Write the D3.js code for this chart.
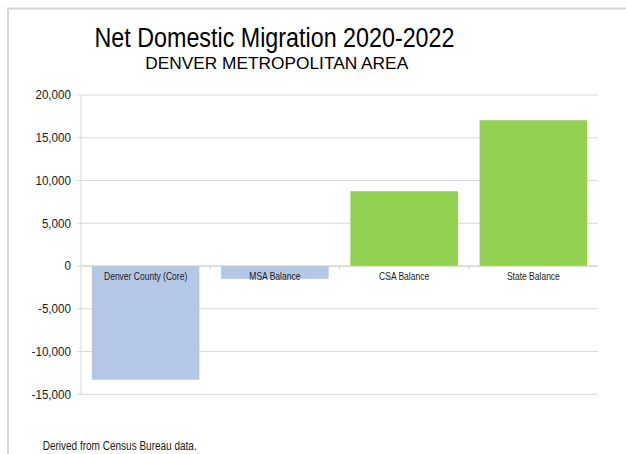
<!DOCTYPE html>
<html><head><meta charset="utf-8">
<script src="https://cdn.jsdelivr.net/npm/d3@7"></script>
<style>body{margin:0;background:#fff;}svg{display:block;font-family:"Liberation Sans",Arial,sans-serif;}</style>
</head><body>
<svg id="c" width="626" height="454"></svg>
<script>
const categories = ["Denver County (Core)", "MSA Balance", "CSA Balance", "State Balance"];
const values = [-13300, -1500, 8750, 17050];
const barColors = ["#b4c7e7", "#b4c7e7", "#92d050", "#92d050"];
const yTicks = [-15000, -10000, -5000, 0, 5000, 10000, 15000, 20000];
const title = "Net Domestic Migration 2020-2022";
const subtitle = "DENVER METROPOLITAN AREA";
const footnote = "Derived from Census Bureau data.";

const svg = d3.select("#c");
const squeeze = function(k){ return function(){ const w = this.getComputedTextLength(); d3.select(this).attr("textLength", w*k).attr("lengthAdjust","spacingAndGlyphs"); }; };

// frame
svg.append("path").attr("d","M8,454 V8.5 H626").attr("fill","none").attr("stroke","#d3d3da").attr("stroke-width",2);

const x = d3.scaleBand().domain(categories).range([81, 598]).paddingInner(0.168).paddingOuter(0.084);
const y = d3.scaleLinear().domain([-15000, 20000]).range([394.3, 95]);

// gridlines
svg.append("g").selectAll("line").data(yTicks).join("line")
  .attr("x1", 77).attr("x2", 598)
  .attr("y1", d => y(d)).attr("y2", d => y(d))
  .attr("stroke", "#d9d9d9").attr("stroke-width", 1);

// y axis line
svg.append("line").attr("x1",81).attr("x2",81).attr("y1",y(20000)).attr("y2",y(-15000)).attr("stroke","#d9d9d9");

// y labels
const fmt = d => d3.format(",")(d).replace("\u2212","-");
svg.append("g").selectAll("text").data(yTicks).join("text")
  .attr("x", 71).attr("y", d => y(d)).attr("dy","0.35em")
  .attr("text-anchor","end").attr("font-size", 12.5).attr("fill","#1a1a1a")
  .text(fmt).each(squeeze(0.93));

// bars
svg.append("g").selectAll("rect").data(values).join("rect")
  .attr("x", (d,i) => x(categories[i]))
  .attr("width", x.bandwidth())
  .attr("y", d => y(Math.max(0,d)))
  .attr("height", d => Math.abs(y(d) - y(0)))
  .attr("fill", (d,i) => barColors[i]);

// zero line + category ticks
svg.append("line").attr("x1",81).attr("x2",598).attr("y1",y(0)).attr("y2",y(0)).attr("stroke","#d0d0d0");
const step = x.step();
svg.append("g").selectAll("line").data(d3.range(1, categories.length)).join("line")
  .attr("x1", i => 81 + i*step).attr("x2", i => 81 + i*step)
  .attr("y1", y(0)).attr("y2", y(0)+3.5).attr("stroke","#d0d0d0");

// category labels
svg.append("g").selectAll("text").data(categories).join("text")
  .attr("x", d => x(d) + x.bandwidth()/2).attr("y", y(0) + 13.8)
  .attr("text-anchor","middle").attr("font-size", 10.5).attr("fill","#1a1a1a")
  .text(d => d).each(squeeze(0.81));

// titles
svg.append("text").attr("x", 274.5).attr("y", 47).attr("text-anchor","middle")
  .attr("font-size", 27).attr("fill","#000").text(title)
  .attr("textLength", 360).attr("lengthAdjust","spacingAndGlyphs");
svg.append("text").attr("x", 276.7).attr("y", 68.5).attr("text-anchor","middle")
  .attr("font-size", 17).attr("fill","#000").text(subtitle)
  .attr("textLength", 263).attr("lengthAdjust","spacingAndGlyphs");
svg.append("text").attr("x", 42.7).attr("y", 450).attr("font-size", 12).attr("fill","#1a1a1a").text(footnote)
  .attr("textLength", 154).attr("lengthAdjust","spacingAndGlyphs");
</script>
</body></html>
